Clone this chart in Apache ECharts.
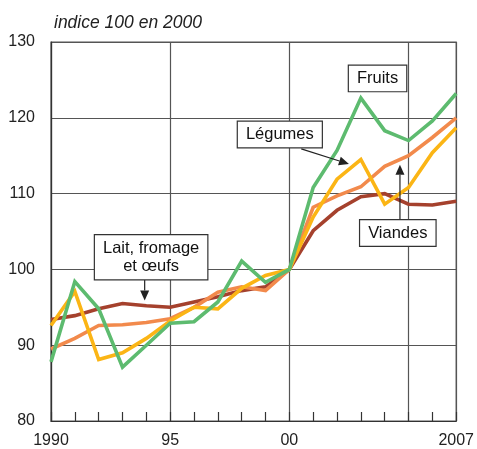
<!DOCTYPE html>
<html>
<head>
<meta charset="utf-8">
<script src="https://cdn.jsdelivr.net/npm/echarts@6/dist/echarts.min.js"></script>
<style>
html,body{margin:0;padding:0;background:#fff;}
#chart{width:477px;height:449px;}
</style>
</head>
<body>
<div id="chart"></div>
<script>
const years = [1990,1991,1992,1993,1994,1995,1996,1997,1998,1999,2000,2001,2002,2003,2004,2005,2006,2007];
const fruits  = [87.8,98.4,94.8,87.1,90.0,92.9,93.1,95.7,101.1,98.3,100,110.8,115.7,122.6,118.3,117.0,119.6,123.2];
const legumes = [92.6,97.1,88.1,89.0,90.9,93.2,95.0,94.8,97.5,99.2,100,106.9,111.9,114.5,108.6,110.8,115.4,118.7];
const viandes = [89.5,90.9,92.6,92.7,93.0,93.5,95.0,97.0,97.7,97.2,100,108.2,109.7,110.9,113.6,115.0,117.4,120.0];
const lait    = [93.4,93.9,94.8,95.5,95.2,95.0,95.7,96.4,97.2,97.7,100,105.1,107.8,109.6,110.0,108.6,108.5,109.0];
const xTickLabels = {1990:'1990',1995:'95',2000:'00',2007:'2007'};
const yTicks = [80,90,100,110,120,130];
const unitLabel = 'indice 100 en 2000';
// annotation labels: text, box centre (data coords), arrow start/end (data coords)
const annotations = [
  {text:'Fruits', at:[2003.7,125.2]},
  {text:'Légumes', at:[1999.6,117.8], arrow:[[2000.5,115.9],[2002.5,113.9]]},
  {text:'Viandes', at:[2004.55,104.8], arrow:[[2004.64,106.4],[2004.64,113.8]]},
  {text:'Lait, fromage\net œufs', at:[1994.2,101.6], arrow:[[1993.93,98.7],[1993.93,95.9]]}
];

const toPairs = arr => years.map((y,i)=>[y,arr[i]]);
const font = 'Liberation Sans, Arial, sans-serif';
const chart = echarts.init(document.getElementById('chart'), null, {renderer:'canvas'});
const lineSeries = (name, data, color) => ({
  name, type:'line', data: toPairs(data), symbol:'none', xAxisIndex:0,
  lineStyle:{color, width:3.6, join:'miter'}, itemStyle:{color}, z:3
});
chart.setOption({
  animation:false,
  grid:{left:51, right:19, top:42, bottom:28, show:true, borderColor:'#555', borderWidth:1.2},
  title:{text:unitLabel, left:49, top:9, textStyle:{fontFamily:font, fontStyle:'italic', fontWeight:'normal', fontSize:17.5, color:'#222'}},
  xAxis:[
    {type:'value', min:1990, max:2007, interval:1, position:'bottom',
     axisLine:{lineStyle:{color:'#333', width:1.2}},
     axisTick:{show:true, inside:true, length:9, lineStyle:{color:'#333', width:1.2}},
     axisLabel:{formatter:v=>xTickLabels[v]||'', fontFamily:font, fontSize:16, color:'#222', margin:12, showMinLabel:true, showMaxLabel:true, hideOverlap:false},
     splitLine:{show:false}},
    {type:'value', min:1990, max:2007, interval:5, position:'top',
     axisLine:{show:false}, axisTick:{show:false}, axisLabel:{show:false},
     splitLine:{show:true, lineStyle:{color:'#555', width:1.2}}}
  ],
  yAxis:{type:'value', min:yTicks[0], max:yTicks[yTicks.length-1], interval:10,
     axisLine:{show:true, lineStyle:{color:'#333', width:1.2}}, axisTick:{show:false},
     axisLabel:{fontFamily:font, fontSize:16, color:'#222', margin:16},
     splitLine:{show:true, lineStyle:{color:'#555', width:1.2}}},
  series:[
    lineSeries('Lait, fromage et œufs', lait, '#a5412d'),
    lineSeries('Viandes', viandes, '#f28a4c'),
    lineSeries('Légumes', legumes, '#fbb515'),
    lineSeries('Fruits', fruits, '#5dbb6f')
  ]
});

const graphics = [];
annotations.forEach(a=>{
  const p = chart.convertToPixel({xAxisIndex:0, yAxisIndex:0}, a.at);
  if (a.arrow) {
    const s = chart.convertToPixel({xAxisIndex:0, yAxisIndex:0}, a.arrow[0]);
    const e = chart.convertToPixel({xAxisIndex:0, yAxisIndex:0}, a.arrow[1]);
    const ang = Math.atan2(e[1]-s[1], e[0]-s[0]);
    const L = 10, W = 4.5;
    const bx = e[0]-L*Math.cos(ang), by = e[1]-L*Math.sin(ang);
    graphics.push({type:'line', z:10, shape:{x1:s[0],y1:s[1],x2:bx,y2:by}, style:{stroke:'#222', lineWidth:1.2}});
    graphics.push({type:'polygon', z:10, shape:{points:[[e[0],e[1]],[bx+W*Math.sin(ang),by-W*Math.cos(ang)],[bx-W*Math.sin(ang),by+W*Math.cos(ang)]]}, style:{fill:'#222'}});
  }
  graphics.push({type:'text', z:11, x:p[0], y:p[1],
    style:{text:a.text, fontFamily:font, fontSize:16.5, fill:'#111', align:'center', verticalAlign:'middle',
      lineHeight:18.5, backgroundColor:'#fff', borderColor:'#333', borderWidth:1.2, padding:[4,8,3,8]}});
});
chart.setOption({graphic:graphics});
</script>
</body>
</html>
